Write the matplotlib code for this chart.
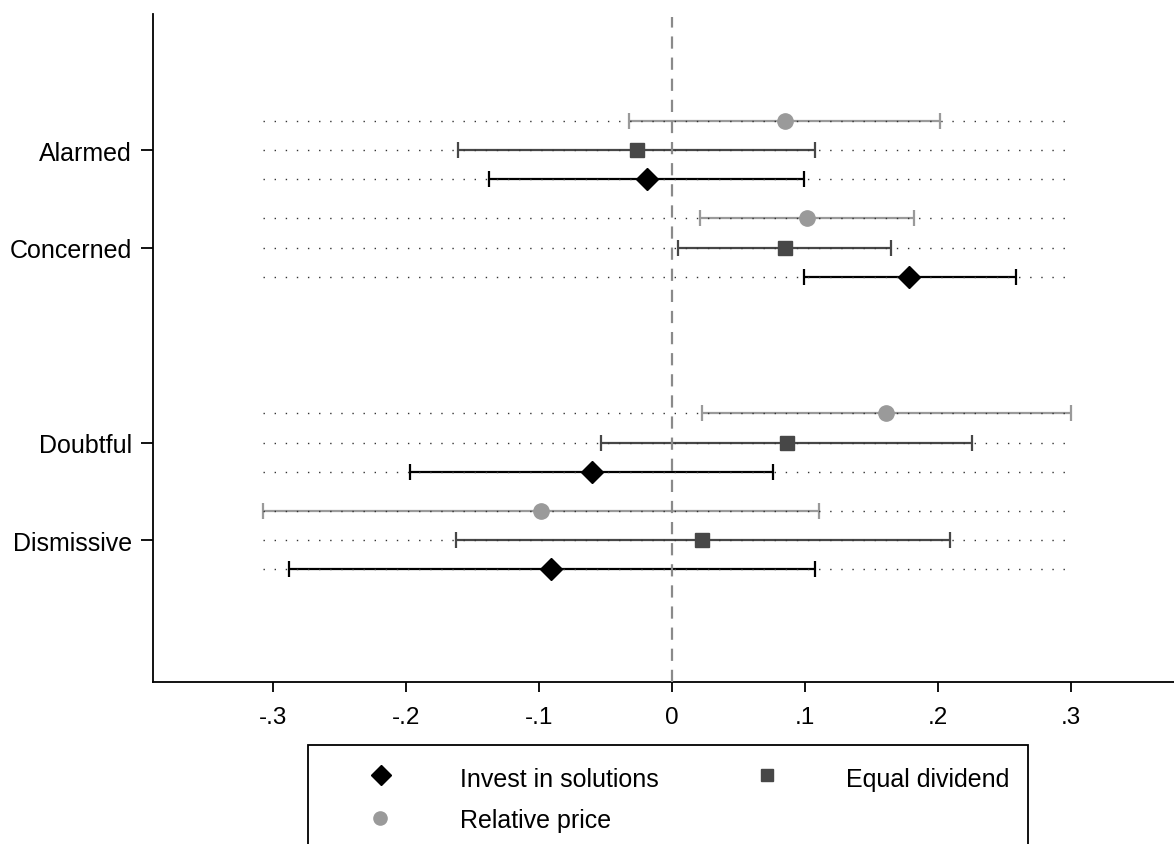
import numpy as np
import matplotlib
matplotlib.use("Agg")
import matplotlib.pyplot as plt
from matplotlib.lines import Line2D
from matplotlib.patches import Rectangle

plt.rcParams['font.family'] = ['Liberation Sans', 'DejaVu Sans']

# groups and their positions on the y axis (gap between Concerned and Doubtful)
groups = ['Alarmed', 'Concerned', 'Doubtful', 'Dismissive']
group_pos = [0, 1, 3, 4]

series = ['Relative price', 'Equal dividend', 'Invest in solutions']
offsets = [-0.3, 0.0, 0.3]
colors = ['#9a9a9a', '#474747', '#000000']
markers = ['o', 's', 'D']
msizes = [11, 10.5, 11.5]

# point estimates per series, order follows groups
relative_price = [0.085, 0.1015, 0.161, -0.0985]
equal_dividend = [-0.026, 0.085, 0.0865, 0.023]
invest = [-0.019, 0.178, -0.060, -0.091]

# confidence interval bounds
relative_lo = [-0.032, 0.021, 0.0226, -0.3075]
relative_hi = [0.2015, 0.182, 0.300, 0.111]
equal_lo = [-0.161, 0.005, -0.053, -0.162]
equal_hi = [0.1075, 0.1647, 0.2256, 0.209]
invest_lo = [-0.1376, 0.099, -0.197, -0.288]
invest_hi = [0.099, 0.2586, 0.076, 0.1075]

est = [relative_price, equal_dividend, invest]
lo = [relative_lo, equal_lo, invest_lo]
hi = [relative_hi, equal_hi, invest_hi]

W, H = 1174, 845
fig = plt.figure(figsize=(W/100, H/100), dpi=100)
ax = fig.add_axes([153/W, 162/H, 1 - 153/W, (683-15)/H])

for k in range(3):
    y = np.array(group_pos) + offsets[k]
    e = np.array(est[k])
    xerr = [e - np.array(lo[k]), np.array(hi[k]) - e]
    # dotted guide line for each row
    for yy in y:
        ax.plot([-0.307, 0.300], [yy, yy], color='#333333', lw=1.0,
                linestyle=(0, (1, 7)), zorder=3)
    ax.errorbar(e, y, xerr=xerr, fmt='none', ecolor=colors[k], elinewidth=1.6,
                capsize=5.5, capthick=1.6, zorder=2)
    ax.plot(e, y, linestyle='none', marker=markers[k], color=colors[k],
            markersize=msizes[k], zorder=4)

ax.axvline(0, ymax=0.995, color='#8a8a8a', lw=1.6, linestyle=(0, (5.5, 4)), zorder=5)

ax.set_xlim(-0.39, 0.3775)
ax.set_ylim(5.456, -1.395)
ax.set_xticks([-0.3, -0.2, -0.1, 0, 0.1, 0.2, 0.3])
ax.set_xticklabels(['-.3', '-.2', '-.1', '0', '.1', '.2', '.3'], fontsize=17.5)
ax.set_yticks(group_pos)
ax.set_yticklabels(groups, fontsize=18)
ax.tick_params(axis='x', length=7, width=1.3, pad=10)
ax.tick_params(axis='y', length=9, width=1.3, pad=6)
for s in ['top', 'right']:
    ax.spines[s].set_visible(False)
for s in ['left', 'bottom']:
    ax.spines[s].set_linewidth(1.3)

# legend box, cut off by the bottom of the figure as in the source
fig.patches.append(Rectangle((308/W, -0.05), (1028-308)/W, 0.05 + (845-746)/H,
                             transform=fig.transFigure, fill=False,
                             edgecolor='black', lw=1.3))
# (series index, marker x, marker y, text x, text baseline) in pixels
leg_items = [(2, 381, 776, 460, 787), (1, 767, 776, 846, 787), (0, 380, 819, 460, 828)]
for k, mx, my, tx, ty in leg_items:
    fig.add_artist(Line2D([mx/W], [1 - my/H], linestyle='none', marker=markers[k],
                          color=colors[k], markersize=msizes[k] - 1.5,
                          transform=fig.transFigure))
    fig.text(tx/W, 1 - ty/H, series[k], fontsize=18, va='baseline', ha='left')

fig.savefig('out.png', dpi=100)
